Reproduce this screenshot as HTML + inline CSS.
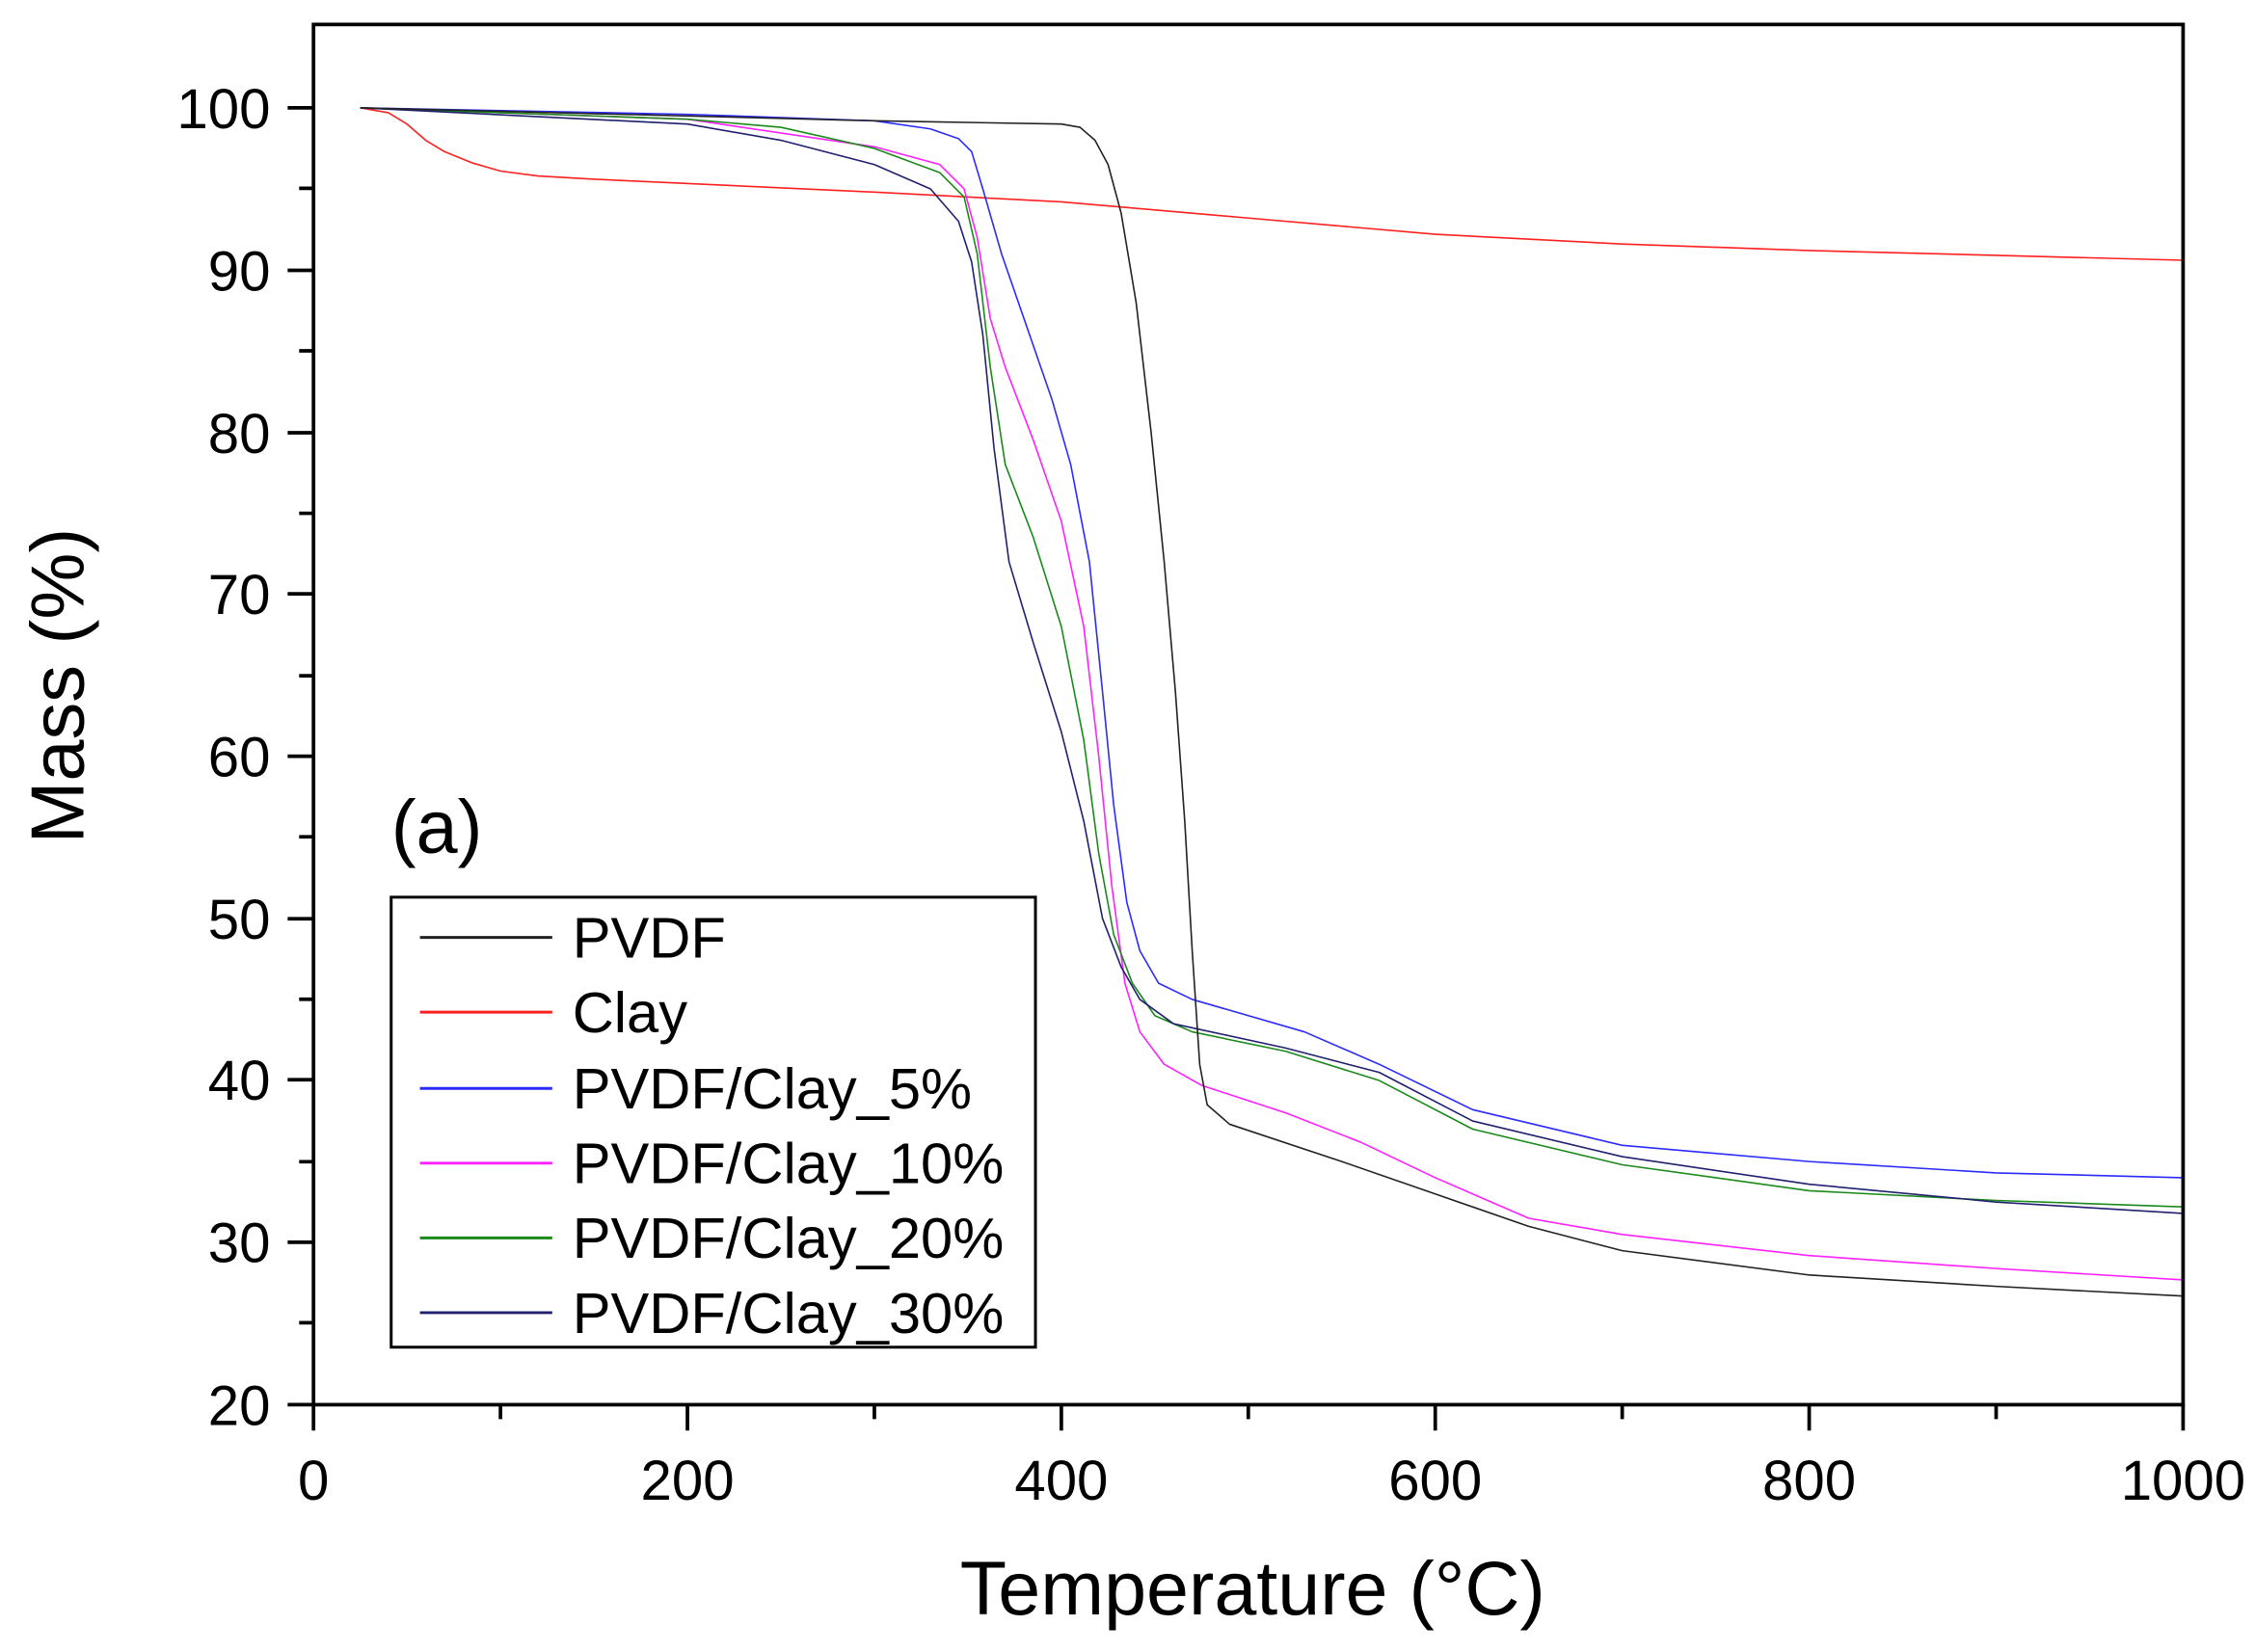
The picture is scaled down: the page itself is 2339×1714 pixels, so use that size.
<!DOCTYPE html>
<html><head><meta charset="utf-8"><style>html,body{margin:0;padding:0;background:#fff}svg{display:block}</style></head>
<body>
<svg width="2339" height="1714" viewBox="0 0 1568 1149" xmlns="http://www.w3.org/2000/svg" font-family="Liberation Sans, Arial, sans-serif">
<rect width="1568" height="1149" fill="#fff"/>
<g fill="none" stroke-width="1.6" stroke-linejoin="round" transform="matrix(1.3 0 0 -11.275 218 1202.5)">
<polyline vector-effect="non-scaling-stroke" stroke="#ff2020" points="25,100 40,99.7 50,99 60,98 70,97.3 85,96.6 100,96.1 120,95.8 150,95.6 300,94.8 400,94.2 500,93.2 600,92.2 700,91.6 800,91.2 1000,90.6"/>
<polyline vector-effect="non-scaling-stroke" stroke="#2b2bff" points="25,100 200,99.6 300,99.2 330,98.7 345,98.1 352,97.3 358,95 368,91 380,87 395,82 405,78 415,72 422,64 428,57 435,51 442,48 452,46 470,45 530,43 570,41 620,38.2 700,36 800,35 900,34.3 1000,34"/>
<polyline vector-effect="non-scaling-stroke" stroke="#ff20ff" points="25,100 200,99.3 300,97.6 335,96.5 348,95 355,92 362,87 370,84 385,79.5 400,74.5 412,68 420,60 427,52 434,46 442,43 455,41 475,39.7 520,38 560,36.2 600,34 650,31.5 700,30.5 800,29.2 900,28.4 1000,27.7"/>
<polyline vector-effect="non-scaling-stroke" stroke="#1a8a1a" points="25,100 200,99.3 250,98.8 300,97.5 335,96 348,94.5 355,91 362,84 370,78 385,73.5 400,68 412,61 420,54 428,49 438,46 450,44 470,43 520,41.8 570,40 620,37 700,34.8 800,33.2 900,32.6 1000,32.2"/>
<polyline vector-effect="non-scaling-stroke" stroke="#20206e" points="25,100 200,99 250,98 300,96.5 330,95 345,93 352,90.5 358,86 364,79 372,72 385,67 400,61.5 412,56 422,50 432,47 442,45 460,43.5 520,42 570,40.5 620,37.5 700,35.3 800,33.6 900,32.5 1000,31.8"/>
<polyline vector-effect="non-scaling-stroke" stroke="#222" points="25,100 200,99.5 300,99.2 400,99 410,98.8 418,98 425,96.5 432,93.5 440,88 448,80 455,72 461,64 466,56 470,48 474,41 478,38.5 490,37.3 550,35 600,33 650,31 700,29.5 800,28 900,27.3 1000,26.7"/>
</g>
<rect x="218" y="17" width="1300" height="960" fill="none" stroke="#000" stroke-width="2.5"/>
<g stroke="#000" stroke-width="2.5">
<path d="M218 977v18M478 977v18M738 977v18M998 977v18M1258 977v18M1518 977v18"/>
<path d="M348 977v10M608 977v10M868 977v10M1128 977v10M1388 977v10"/>
<path d="M218 977h-18M218 864h-18M218 751h-18M218 639h-18M218 526h-18M218 413h-18M218 301h-18M218 188h-18M218 75h-18"/>
<path d="M218 920h-10M218 808h-10M218 695h-10M218 582h-10M218 470h-10M218 357h-10M218 244h-10M218 131h-10"/>
</g>
<g font-size="39" fill="#000" text-anchor="middle">
<text x="218" y="1043">0</text><text x="478" y="1043">200</text><text x="738" y="1043">400</text><text x="998" y="1043">600</text><text x="1258" y="1043">800</text><text x="1518" y="1043">1000</text>
</g>
<g font-size="39" fill="#000" text-anchor="end">
<text x="188" y="991">20</text><text x="188" y="878">30</text><text x="188" y="765">40</text><text x="188" y="653">50</text><text x="188" y="540">60</text><text x="188" y="427">70</text><text x="188" y="315">80</text><text x="188" y="202">90</text><text x="188" y="89">100</text>
</g>
<text x="871" y="1123" font-size="53" text-anchor="middle">Temperature (°C)</text>
<text transform="translate(58 477) rotate(-90)" font-size="52" text-anchor="middle">Mass (%)</text>
<text x="272" y="593" font-size="52">(a)</text>
<rect x="272" y="624" width="448" height="313" fill="#fff" stroke="#000" stroke-width="2"/>
<g stroke-width="2">
<line x1="292" y1="652" x2="384" y2="652" stroke="#222"/>
<line x1="292" y1="704" x2="384" y2="704" stroke="#ff2020"/>
<line x1="292" y1="757" x2="384" y2="757" stroke="#2b2bff"/>
<line x1="292" y1="809" x2="384" y2="809" stroke="#ff20ff"/>
<line x1="292" y1="861" x2="384" y2="861" stroke="#1a8a1a"/>
<line x1="292" y1="913" x2="384" y2="913" stroke="#20206e"/>
</g>
<g font-size="40" fill="#000">
<text x="398" y="666">PVDF</text><text x="398" y="718">Clay</text><text x="398" y="771">PVDF/Clay_5%</text><text x="398" y="823">PVDF/Clay_10%</text><text x="398" y="875">PVDF/Clay_20%</text><text x="398" y="927">PVDF/Clay_30%</text>
</g>
</svg>
</body></html>
